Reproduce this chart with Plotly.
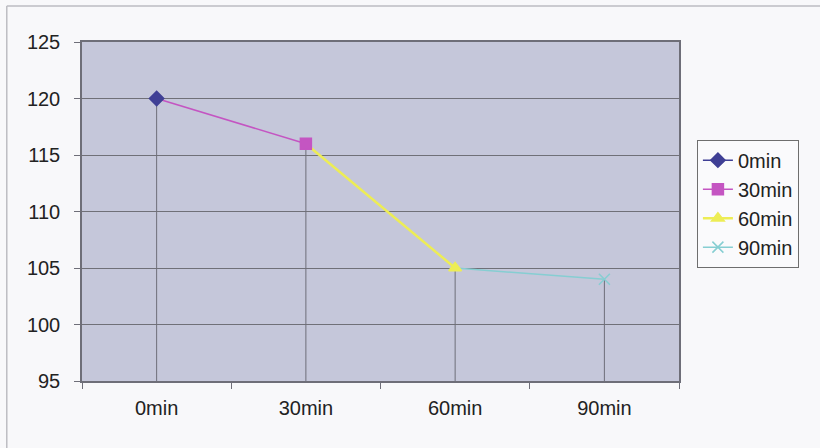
import plotly.graph_objects as go

# Time points and measured values
categories = ["0min", "30min", "60min", "90min"]
values = [120, 116, 105, 104]
series_names = ["0min", "30min", "60min", "90min"]

y_ticks = [95, 100, 105, 110, 115, 120, 125]

colors = ["#3F3F95", "#C455C2", "#EDED55", "#86CED2"]
symbols = ["diamond", "square", "triangle-up", "x-thin"]
widths = [1.5, 1.5, 2.5, 1.5]
y_min, y_max = 95, 125

fig = go.Figure()

# Drop lines from every point down to the category axis
drop_x, drop_y = [], []
for cat, v in zip(categories, values):
    drop_x += [cat, cat, None]
    drop_y += [v, y_min, None]
fig.add_trace(go.Scatter(x=drop_x, y=drop_y, mode="lines",
                         line=dict(color="#6E6E78", width=1),
                         hoverinfo="skip", showlegend=False))

# Segments: each series joins the previous time point to its own
for i in range(1, len(series_names)):
    fig.add_trace(go.Scatter(
        x=[categories[i - 1], categories[i]], y=[values[i - 1], values[i]],
        mode="lines", line=dict(color=colors[i], width=widths[i]),
        legendgroup=series_names[i], showlegend=False, hoverinfo="skip",
    ))

# Markers for each series at its own time point
for i, name in enumerate(series_names):
    fig.add_trace(go.Scatter(
        x=[categories[i]], y=[values[i]], name=name, legendgroup=name,
        mode="lines+markers",
        line=dict(color=colors[i], width=widths[i]),
        marker=dict(symbol=symbols[i], size=11, color=colors[i],
                    line=dict(color=colors[i], width=1.5)),
    ))

fig.update_layout(
    width=820, height=448,
    margin=dict(l=82, r=141, t=42, b=67),
    paper_bgcolor="#F8F8FA",
    plot_bgcolor="#C5C7DA",
    font=dict(family="Liberation Sans, Arial, sans-serif", size=20, color="#222222"),
    showlegend=True,
    legend=dict(x=1.03, y=0.712, xanchor="left", yanchor="top",
                bgcolor="#FAFAFC", bordercolor="#6E6E6E", borderwidth=1,
                font=dict(size=20), tracegroupgap=0, itemwidth=30),
    shapes=[
        dict(type="line", xref="paper", yref="paper", x0=-0.126, x1=1.4,
             y0=1.106, y1=1.106, line=dict(color="#BDBDC2", width=1.5)),
        dict(type="line", xref="paper", yref="paper", x0=-0.126, x1=-0.126,
             y0=1.106, y1=-0.2, line=dict(color="#BDBDC2", width=1.5)),
    ],
)

fig.update_xaxes(
    type="category", categoryorder="array", categoryarray=categories,
    range=[-0.5, 3.5], tickson="boundaries", showgrid=False, zeroline=False,
    showline=True, linecolor="#6E6E78", linewidth=1.5, mirror=True,
    ticks="outside", ticklen=6, tickcolor="#6E6E78", ticklabelstandoff=8,
)

fig.update_yaxes(
    range=[y_min, y_max], tickvals=y_ticks, showgrid=True,
    gridcolor="#707078", gridwidth=1, zeroline=False,
    showline=True, linecolor="#6E6E78", linewidth=1.5, mirror=True,
    ticks="outside", ticklen=6, tickcolor="#6E6E78", ticklabelstandoff=10,
)

fig.write_html("out.html")
